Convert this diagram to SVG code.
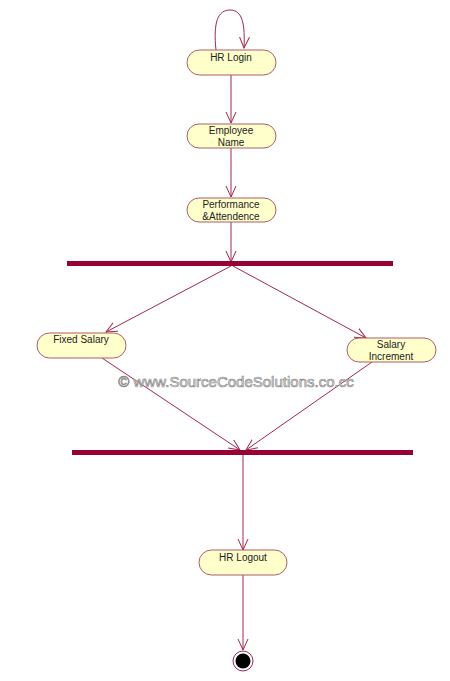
<svg xmlns="http://www.w3.org/2000/svg" width="450" height="681" viewBox="0 0 450 681">
<defs>
<marker id="arr" viewBox="0 0 12 12" refX="11" refY="6" markerWidth="12" markerHeight="12" markerUnits="userSpaceOnUse" orient="auto">
<path d="M0,1 L11,6 L0,11" fill="none" stroke="#a3284a" stroke-width="1"/>
</marker>
<style>
.n{fill:#ffffcc;stroke:#b05a66;stroke-width:1}
.t{font-family:"Liberation Sans",Arial,sans-serif;font-size:10px;fill:#222;text-anchor:middle}
.c{fill:none;stroke:#a3284a;stroke-width:1}
.bar{fill:#990033}
</style>
</defs>
<rect width="450" height="681" fill="#fff"/>
<g id="connectors">
<path class="c" d="M216,50 C213,22 218,10 230,10 C243,10 245,25 244,48" marker-end="url(#arr)"/>
<line class="c" x1="231" y1="75" x2="231" y2="123" marker-end="url(#arr)"/>
<line class="c" x1="231" y1="148" x2="231" y2="197" marker-end="url(#arr)"/>
<line class="c" x1="231" y1="222" x2="231" y2="262" marker-end="url(#arr)"/>
<line class="c" x1="231" y1="266" x2="106" y2="332" marker-end="url(#arr)"/>
<line class="c" x1="233" y1="266" x2="366" y2="338" marker-end="url(#arr)"/>
<line class="c" x1="102" y1="358" x2="240" y2="450" marker-end="url(#arr)"/>
<line class="c" x1="372" y1="362" x2="246" y2="450" marker-end="url(#arr)"/>
<line class="c" x1="243" y1="455" x2="243" y2="550" marker-end="url(#arr)"/>
<line class="c" x1="243" y1="575" x2="243" y2="650" marker-end="url(#arr)"/>
</g>
<g id="hr-login"><rect class="n" x="187" y="50" width="89" height="25" rx="12.5"/><text class="t" x="231" y="61">HR Login</text></g>
<g id="employee-name"><rect class="n" x="187" y="124" width="89" height="24" rx="12"/><text class="t" x="231" y="134">Employee</text><text class="t" x="231" y="146">Name</text></g>
<g id="performance"><rect class="n" x="187" y="198" width="89" height="24" rx="12"/><text class="t" x="231" y="208">Performance</text><text class="t" x="231" y="220">&amp;Attendence</text></g>
<g id="fork"><rect class="bar" x="67" y="261" width="326" height="5"/></g>
<g id="fixed-salary"><rect class="n" x="37" y="333" width="89" height="25" rx="12.5"/><text class="t" x="81" y="343">Fixed Salary</text></g>
<g id="salary-increment"><rect class="n" x="347" y="338" width="89" height="24" rx="12"/><text class="t" x="391" y="348">Salary</text><text class="t" x="391" y="360">Increment</text></g>
<g id="join"><rect class="bar" x="72" y="450" width="341" height="5"/></g>
<g id="hr-logout"><rect class="n" x="199" y="550" width="88" height="25" rx="12.5"/><text class="t" x="243" y="561">HR Logout</text></g>
<g id="final"><circle cx="243" cy="661" r="10" fill="#fff" stroke="#a3284a" stroke-width="1"/><circle cx="243" cy="661" r="7.5" fill="#000"/></g>
<text x="236" y="387" font-family="'Liberation Sans',Arial,sans-serif" font-size="15" text-anchor="middle" fill="#f4f4f4" stroke="#8a8a8a" stroke-width="0.7">© www.SourceCodeSolutions.co.cc</text>
</svg>
